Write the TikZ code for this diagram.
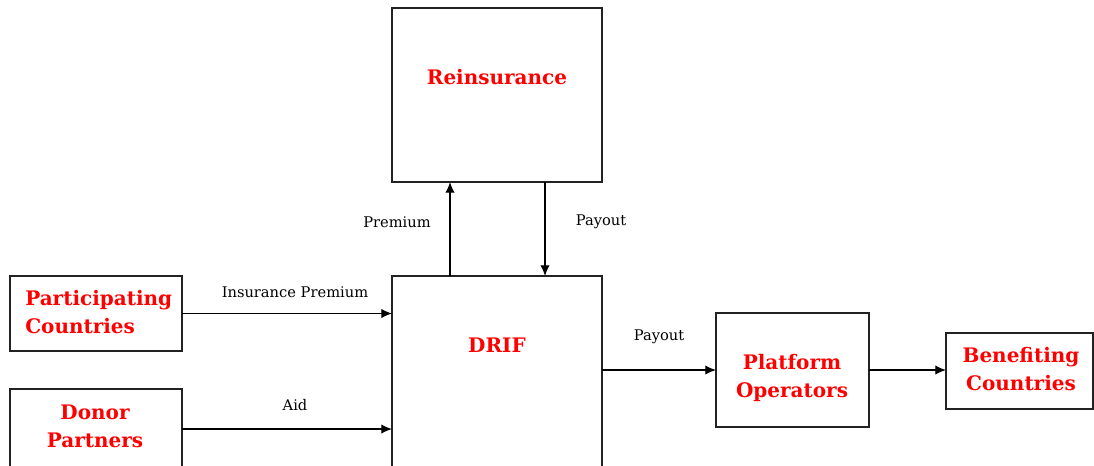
\documentclass[tikz,border=0pt]{standalone}
\usepackage{fontspec}
\setmainfont{DejaVu Serif}
\usepackage{tikz}
\usetikzlibrary{arrows.meta, positioning, calc}
\definecolor{Ink}{HTML}{000000}
\definecolor{Title}{HTML}{FF0000}
\definecolor{Frame}{HTML}{222222}

\begin{document}
\begin{tikzpicture}[
  x=0.75pt, y=-0.75pt,
  box/.style={draw=Frame, line width=1.1pt, fill=white, inner sep=0pt, outer sep=0pt},
  title/.style={text=Title, font=\fontsize{15}{21}\selectfont\bfseries, align=center, inner sep=0pt},
  tag/.style={text=Ink, font=\fontsize{11}{13}\selectfont, inner sep=1pt},
  arrow/.style={-{Latex[length=8pt, width=7pt]}, line width=0.9pt, draw=Ink}
]
\useasboundingbox (0,0) rectangle (1094,465);

\node[box, minimum width=157.5pt, minimum height=130.5pt] (reins) at (497,95) {};
\node[box, minimum width=157.5pt, minimum height=183pt] (drif) at (497,398) {};
\node[box, minimum width=129pt, minimum height=56.25pt] (part) at (96,313.5) {};
\node[box, minimum width=129pt, minimum height=84pt] (donor) at (96,445) {};
\node[box, minimum width=114.75pt, minimum height=85.5pt] (plat) at (792.5,370) {};
\node[box, minimum width=110.25pt, minimum height=57pt] (benef) at (1019.5,371) {};

\node[title] (reins-t) at (497,77) {Reinsurance};
\node[title] (drif-t) at (497,345) {DRIF};
\node[title, align=left, anchor=west] (part-t) at (25,312) {Participating\\Countries};
\node[title] (donor-t) at (95,426) {Donor\\Partners};
\node[title] (plat-t) at (792,378) {Platform\\Operators};
\node[title] (benef-t) at (1021,369) {Benefiting\\Countries};

\draw[arrow] ($(drif.north)+(-47,0)$) -- ($(reins.south)+(-47,0)$);
\draw[arrow] ($(reins.south)+(48,0)$) -- ($(drif.north)+(48,0)$);
\draw[arrow] (part.east) -- (part.east -| drif.west);
\draw[arrow] ($(donor.east)+(0,-16)$) -- ($(donor.east -| drif.west)+(0,-16)$);
\draw[arrow] (drif.east |- plat.west) -- (plat.west);
\draw[arrow] (plat.east) -- (benef.west |- plat.east);

\node[tag] (prem-l) at (397,222) {Premium};
\node[tag] (pay-l) at (601,222) {Payout};
\node[tag] (ins-l) at (295,292) {Insurance Premium};
\node[tag] (aid-l) at (295,405) {Aid};
\node[tag] (pay2-l) at (659,337) {Payout};
\end{tikzpicture}
\end{document}
